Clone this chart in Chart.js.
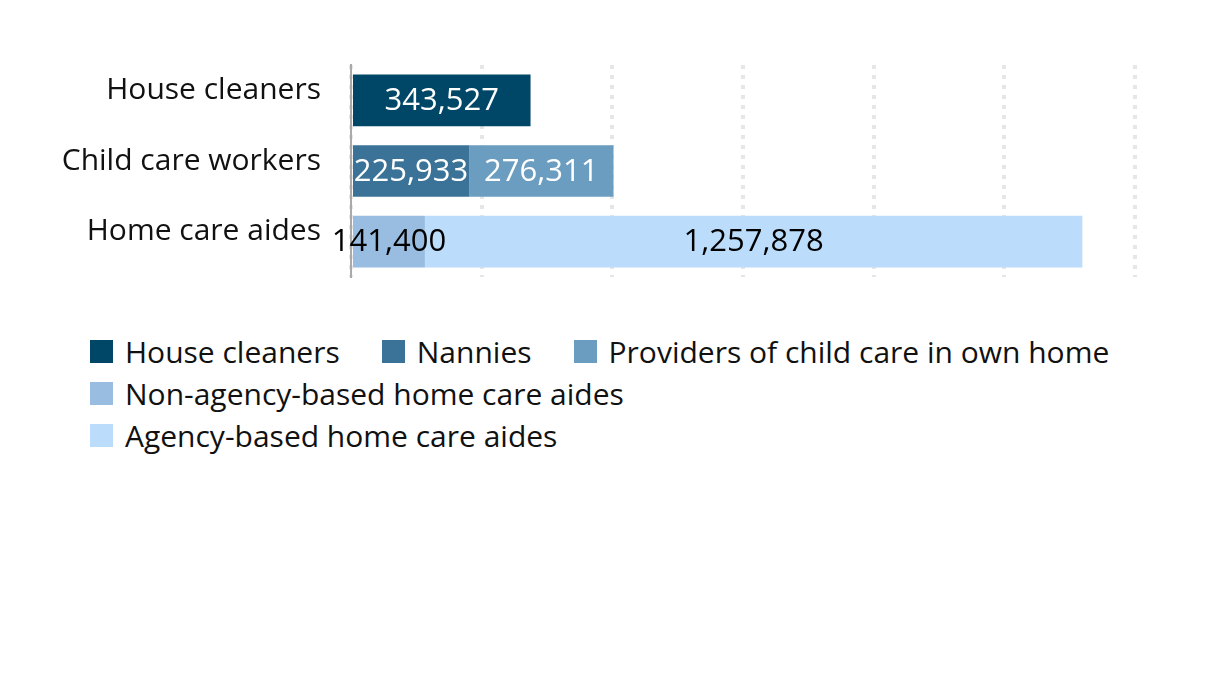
<!DOCTYPE html>
<html>
<head>
<meta charset="utf-8">
<script src="https://cdn.jsdelivr.net/npm/chart.js@4"></script>
<style>
  body { margin: 0; background: #fff; font-family: "Open Sans", sans-serif; }
  #wrap { position: relative; width: 1216px; height: 700px; }
  #chartBox { position: absolute; left: 0; top: 0; width: 1216px; height: 325px; }
  #legend { position: absolute; left: 90px; top: 330px; width: 1070px; display: flex; flex-wrap: wrap; }
  .item { display: flex; align-items: center; height: 42px; margin-right: 42px; font-size: 30px; color: #111; white-space: nowrap; }
  .box { width: 23px; height: 23px; margin-right: 12px; }
</style>
</head>
<body>
<div id="wrap">
  <div id="chartBox"><canvas id="chart"></canvas></div>
  <div id="legend"></div>
</div>
<script>
// Categories and series values
const categories = ['House cleaners', 'Child care workers', 'Home care aides'];
const houseCleaners = [343527, null, null];
const nannies = [null, 225933, null];
const childCareProviders = [null, 276311, null];
const nonAgencyAides = [null, null, 141400];
const agencyAides = [null, null, 1257878];

const seriesNames = ['House cleaners', 'Nannies', 'Providers of child care in own home',
  'Non-agency-based home care aides', 'Agency-based home care aides'];
const seriesColors = ['#004767', '#3a7397', '#6b9dc0', '#98bde0', '#bbdcfb'];
const labelColors = ['#fff', '#fff', '#fff', '#000', '#000'];

const seriesData = [houseCleaners, nannies, childCareProviders, nonAgencyAides, agencyAides];

// Draw the value inside each bar segment
const barLabels = {
  id: 'barLabels',
  afterDatasetsDraw(chart) {
    const ctx = chart.ctx;
    ctx.save();
    ctx.font = '31px "Open Sans"';
    ctx.textAlign = 'center';
    ctx.textBaseline = 'middle';
    chart.data.datasets.forEach((ds, i) => {
      const meta = chart.getDatasetMeta(i);
      meta.data.forEach((bar, j) => {
        const v = ds.data[j];
        if (v == null) return;
        ctx.fillStyle = labelColors[i];
        ctx.fillText(v.toLocaleString('en-US'), (bar.x + bar.base) / 2, bar.y + 1);
      });
    });
    ctx.restore();
  }
};

new Chart(document.getElementById('chart'), {
  type: 'bar',
  data: {
    labels: categories,
    datasets: seriesData.map((d, i) => ({
      label: seriesNames[i],
      data: d,
      backgroundColor: seriesColors[i],
      borderWidth: 0,
      barPercentage: 0.73,
      categoryPercentage: 1
    }))
  },
  options: {
    indexAxis: 'y',
    responsive: true,
    maintainAspectRatio: false,
    animation: false,
    layout: { padding: { top: 65, right: 81, bottom: 22, left: 0 } },
    plugins: {
      legend: { display: false },
      tooltip: { enabled: false }
    },
    scales: {
      x: {
        stacked: true,
        min: 0,
        max: 1500000,
        ticks: { display: false, stepSize: 250000 },
        grid: { color: '#e6e6e6', lineWidth: 4, drawTicks: false },
        border: { display: false, dash: [4, 6] },
        afterFit(scale) { scale.height = 0; }
      },
      y: {
        stacked: true,
        grid: { display: false, drawTicks: false },
        border: { display: true, color: '#aaaaaa', width: 2 },
        ticks: {
          padding: 30,
          labelOffset: -10,
          color: '#111',
          font: { family: 'Open Sans', size: 30 }
        },
        afterFit(scale) { scale.width = 351; }
      }
    }
  },
  plugins: [barLabels]
});

// HTML legend
const legend = document.getElementById('legend');
seriesNames.forEach((name, i) => {
  const item = document.createElement('div');
  item.className = 'item';
  const box = document.createElement('span');
  box.className = 'box';
  box.style.background = seriesColors[i];
  item.appendChild(box);
  item.appendChild(document.createTextNode(name));
  legend.appendChild(item);
});
</script>
</body>
</html>
